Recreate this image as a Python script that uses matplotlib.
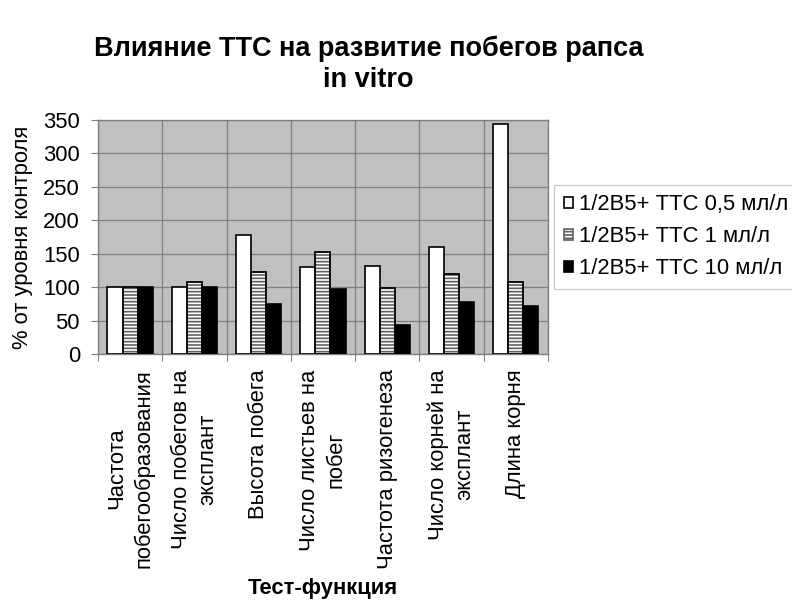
import matplotlib
matplotlib.use("Agg")
import matplotlib.pyplot as plt
import numpy as np

plt.rcParams['font.family'] = ['Liberation Sans', 'DejaVu Sans']
plt.rcParams['hatch.linewidth'] = 1.2

categories = ["Частота\nпобегообразования", "Число побегов на\nэксплант", "Высота побега",
              "Число листьев на\nпобег", "Частота ризогенеза", "Число корней на\nэксплант",
              "Длина корня"]
series_names = ["1/2B5+ ТТС 0,5 мл/л", "1/2B5+ ТТС 1 мл/л", "1/2B5+ ТТС 10 мл/л"]
s_05 = [100, 100, 178, 130, 132, 160, 343]
s_1 = [100, 107, 122, 153, 99, 120, 107]
s_10 = [100, 100, 74, 97, 44, 77, 72]
yticks = [0, 50, 100, 150, 200, 250, 300, 350]

FS = 15.8

fig = plt.figure(figsize=(7.92, 6.02), dpi=100)
ax = fig.add_axes([0.1237, 0.412, 0.568, 0.389])
ax.set_facecolor('#C0C0C0')

x = np.arange(len(categories))
w = 0.235
ax.bar(x - w, s_05, w, facecolor='white', edgecolor='black', linewidth=1.2, label=series_names[0], zorder=3)
ax.bar(x, s_1, w, facecolor='white', edgecolor='#606060', hatch='-----', linewidth=1.2, label=series_names[1], zorder=3)
ax.bar(x, s_1, w, facecolor='none', edgecolor='black', linewidth=1.2, zorder=4)
ax.bar(x + w, s_10, w, facecolor='black', edgecolor='black', linewidth=1.2, label=series_names[2], zorder=3)

ax.set_xlim(-0.5, len(categories) - 0.5)
ax.set_ylim(0, 350)
ax.set_yticks(yticks)
ax.set_yticklabels([str(v) for v in yticks], fontsize=FS)
ax.set_xticks(np.arange(-0.5, len(categories), 1.0))
ax.set_xticklabels([])
ax.set_xticks(x, minor=True)
ax.set_xticklabels(categories, minor=True, rotation=90, fontsize=FS, va='top', ha='center',
                   multialignment='center', linespacing=1.35)
ax.tick_params(axis='x', which='minor', length=0, pad=11)
ax.tick_params(axis='x', which='major', length=5, color='#808080', direction='out')
ax.tick_params(axis='y', length=5, color='#808080', direction='out', pad=8)
ax.grid(True, which='major', color='#808080', linewidth=0.9, zorder=0)
ax.set_axisbelow(True)
for sp in ax.spines.values():
    sp.set_color('#808080')
    sp.set_linewidth(1.0)

ax.set_ylabel("% от уровня контроля", fontsize=FS, labelpad=7)
fig.text(0.408, 0.022, "Тест-функция", fontsize=FS, fontweight='bold', ha='center', va='center')
fig.text(0.465, 0.893, "Влияние ТТС на развитие побегов рапса\nin vitro", fontsize=19.5,
         fontweight='bold', ha='center', va='center', linespacing=1.25)

leg = ax.legend(loc='center left', bbox_to_anchor=(1.013, 0.5), fontsize=FS, frameon=True,
                fancybox=False, edgecolor='#C0C0C0', handlelength=0.45, handleheight=0.45,
                handletextpad=0.25, borderpad=0.45, labelspacing=0.5, borderaxespad=0)
leg.get_frame().set_linewidth(1.0)

fig.savefig("out.png", dpi=100)
